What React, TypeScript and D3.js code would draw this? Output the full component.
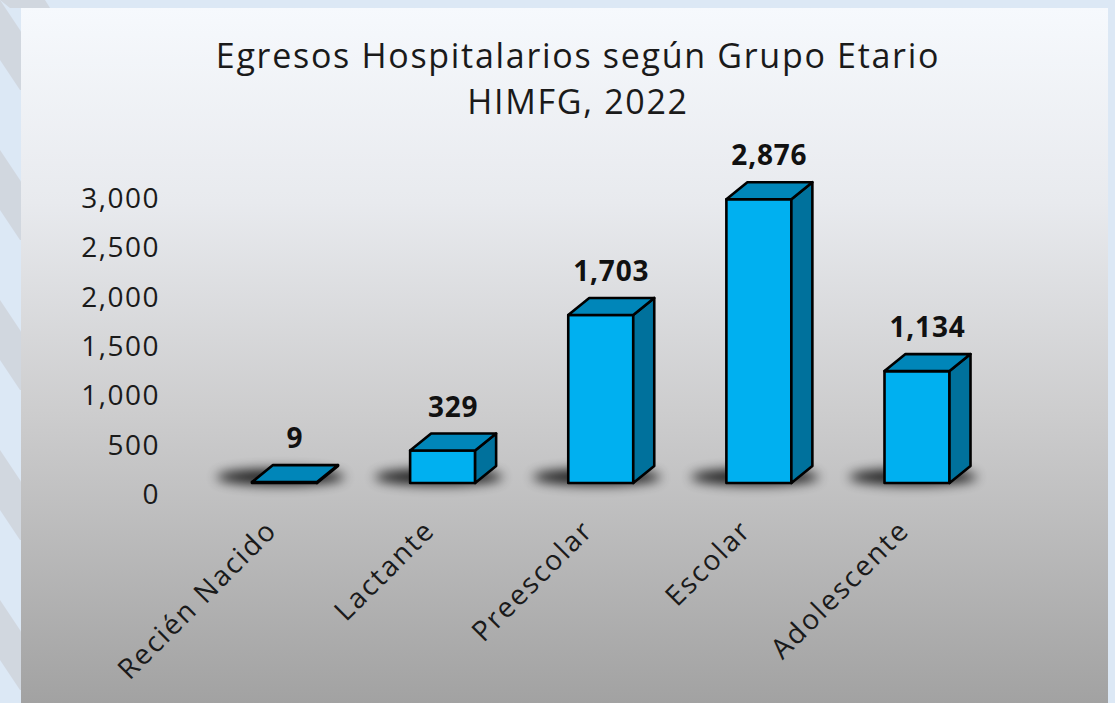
import * as d3 from 'd3'

const categories = ['Recién Nacido', 'Lactante', 'Preescolar', 'Escolar', 'Adolescente']
const values = [9, 329, 1703, 2876, 1134]
const yTicks = [0, 500, 1000, 1500, 2000, 2500, 3000]
const titleLines = ['Egresos Hospitalarios según Grupo Etario', 'HIMFG, 2022']

const W = 1115
const H = 703
const FONT = "'Open Sans', sans-serif"

export default function App() {
  const x = d3.scalePoint<string>().domain(categories).range([284.5, 917])
  const y = d3.scaleLinear().domain([0, 3000]).range([483, 187])
  const barW = 65
  const dx = 21
  const dy = 17
  const base = y(0)
  const fmt = d3.format(',')

  // stripes in the outer background, left edge
  const stripes = d3.range(-2, 8).map((i) => i * 150)

  return (
    <svg width={W} height={H} style={{ position: 'absolute', left: 0, top: 0 }}>
      <defs>
        <linearGradient id="panel" gradientUnits="userSpaceOnUse" x1="0" y1="8" x2="0" y2="703">
          <stop offset="0" stopColor="#f6f9fd" />
          <stop offset="0.28" stopColor="#e8eaee" />
          <stop offset="0.58" stopColor="#cdcdce" />
          <stop offset="1" stopColor="#a2a2a2" />
        </linearGradient>
        <filter id="shadow" x="-50%" y="-200%" width="200%" height="500%">
          <feGaussianBlur stdDeviation="6" />
        </filter>
        <clipPath id="leftStrip">
          <rect x="0" y="0" width="21" height={H} />
        </clipPath>
      </defs>

      <rect width={W} height={H} fill="#dce8f5" />
      <g clipPath="url(#leftStrip)">
        {stripes.map((s) => (
          <polygon key={s} points={`-40,${s} 0,${s} 60,${s + 90} 20,${s + 90}`} fill="#d1d7df" />
        ))}
      </g>
      <polygon points="0,0 45,0 50,8 10,8" fill="#d1d7df" />

      <rect x={21} y={8} width={1087} height={H - 8} fill="url(#panel)" />

      {titleLines.map((t, i) => (
        <text key={t} x={578} y={68 + i * 46} textAnchor="middle" fontFamily={FONT}
          fontSize={34} letterSpacing={1.7} fill="#1a1a1a">{t}</text>
      ))}

      {yTicks.map((t) => (
        <text key={t} x={160} y={y(t) + 11} dy="0.36em" textAnchor="end" fontFamily={FONT}
          fontSize={28} letterSpacing={1.5} fill="#1a1a1a">{fmt(t)}</text>
      ))}

      {categories.map((c, i) => {
        const cx = x(c) as number
        const L = cx - barW / 2
        const R = cx + barW / 2
        const T = y(values[i])
        const B = base
        return (
          <g key={c}>
            <ellipse cx={cx - 4} cy={B - 6} rx={64} ry={8} fill="#000" opacity={0.85} filter="url(#shadow)" />
            <g stroke="#000" strokeWidth={2.6} strokeLinejoin="round">
              <rect x={L} y={T} width={barW} height={B - T} fill="#00b0f0" />
              <polygon points={`${R},${T} ${R + dx},${T - dy} ${R + dx},${B - dy} ${R},${B}`} fill="#00719c" />
              <polygon points={`${L},${T} ${L + dx},${T - dy} ${R + dx},${T - dy} ${R},${T}`} fill="#0086b9" />
            </g>
            <text x={cx + dx / 2} y={T - dy - 17} textAnchor="middle" fontFamily={FONT}
              fontSize={28} fontWeight={700} letterSpacing={0.8} fill="#111">{fmt(values[i])}</text>
            <text transform={`translate(${cx - 6},${532}) rotate(-45)`} textAnchor="end"
              fontFamily={FONT} fontSize={28} letterSpacing={2} fill="#1a1a1a">{c}</text>
          </g>
        )
      })}
    </svg>
  )
}
